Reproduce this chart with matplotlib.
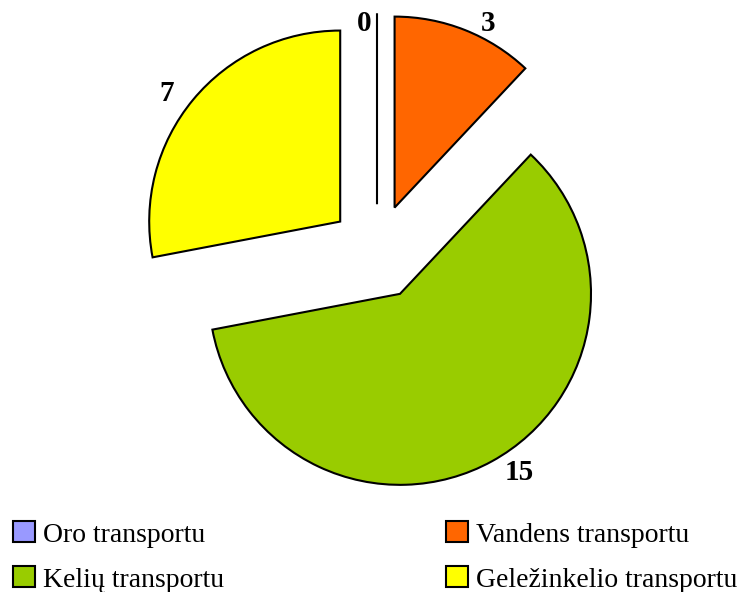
import matplotlib.pyplot as plt

categories = ['Oro transportu', 'Vandens transportu', 'Kelių transportu', 'Geležinkelio transportu']
values = [0, 3, 15, 7]
colors = ['#9999FF', '#FF6600', '#99CC00', '#FFFF00']
# where the value labels sit (data units, pie radius = 1)
label_pos = [(-0.068, 1.194), (0.581, 1.194), (0.743, -1.152), (-1.099, 0.832)]

fig = plt.figure(figsize=(7.44, 5.92), dpi=100)
ax = fig.add_axes([0, 0, 1, 1])

# pie centre at about (377, 252) px, radius 191 px
r_px = 191
cx, cy = 377, 252
wedges, texts = ax.pie(values, labels=[str(v) for v in values], colors=colors,
                       startangle=90, counterclock=False,
                       explode=[0.25] * len(values), labeldistance=1.1,
                       wedgeprops=dict(edgecolor='black', linewidth=1.5),
                       textprops=dict(fontfamily='Liberation Serif', fontweight='bold',
                                      fontsize=21))
for t, p in zip(texts, label_pos):
    t.set_ha('center')
    t.set_va('center')
    t.set_position(p)

ax.set_xlim(-cx / r_px, (744 - cx) / r_px)
ax.set_ylim((cy - 592) / r_px, cy / r_px)
ax.set_aspect('auto')
ax.axis('off')

# legend filled row by row: matplotlib fills columns, so reorder
order = [0, 2, 1, 3]
fig.legend([wedges[i] for i in order], [categories[i] for i in order],
           loc='center left', bbox_to_anchor=(13 / 744, 1 - 557 / 592),
           ncol=2, frameon=False, handlelength=0.78, handleheight=0.78,
           handletextpad=0.3, columnspacing=8.0, labelspacing=0.68,
           borderpad=0, borderaxespad=0,
           prop=dict(family='Liberation Serif', size=20))

fig.savefig('out.png', dpi=100)
